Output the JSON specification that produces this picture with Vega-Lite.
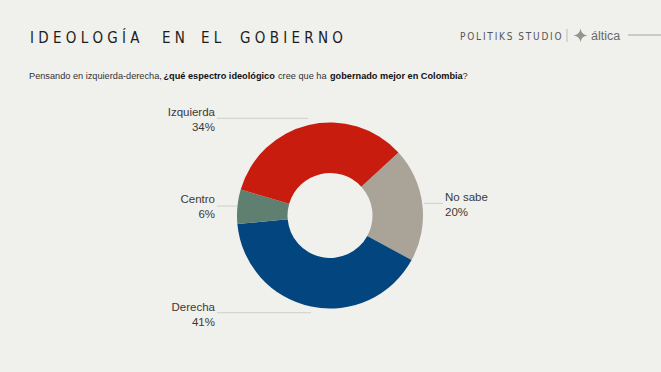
{
  "$schema": "https://vega.github.io/schema/vega-lite/v6.json",
  "width": 661,
  "height": 372,
  "padding": 0,
  "autosize": {"type": "none"},
  "background": "#F0F0EC",
  "config": {"view": {"stroke": null}, "axis": {"disable": true}, "text": {"baseline": "alphabetic"}},
  "data": {"values": [
    {"categoria": "No sabe", "pct": 0.20, "orden": 1},
    {"categoria": "Derecha", "pct": 0.41, "orden": 2},
    {"categoria": "Centro", "pct": 0.06, "orden": 3},
    {"categoria": "Izquierda", "pct": 0.34, "orden": 4}
  ]},
  "layer": [
    {
      "mark": {"type": "arc", "outerRadius": 93, "innerRadius": 42.5},
      "encoding": {
        "theta": {"field": "pct", "type": "quantitative", "stack": true, "scale": {"range": [0.827, 7.110]}},
        "order": {"field": "orden", "type": "quantitative"},
        "color": {"field": "categoria", "type": "nominal", "legend": null,
          "scale": {"domain": ["Izquierda", "No sabe", "Derecha", "Centro"], "range": ["#C81C0E", "#A9A398", "#03467F", "#5F7F70"]}},
        "x": {"datum": 330, "type": "quantitative", "scale": {"domain": [0, 661], "nice": false, "zero": false}},
        "y": {"datum": 215.5, "type": "quantitative", "scale": {"domain": [0, 372], "nice": false, "zero": false, "reverse": true}}
      }
    },
    {
      "transform": [{"filter": "datum.categoria === 'Izquierda'"}],
      "mark": {"type": "rule", "stroke": "#CFCFCA", "strokeWidth": 1},
      "encoding": {"x": {"datum": 217, "type": "quantitative"}, "x2": {"datum": 308}, "y": {"datum": 118.3, "type": "quantitative"}}
    },
    {
      "transform": [{"filter": "datum.categoria === 'Centro'"}],
      "mark": {"type": "rule", "stroke": "#CFCFCA", "strokeWidth": 1},
      "encoding": {"x": {"datum": 217, "type": "quantitative"}, "x2": {"datum": 237}, "y": {"datum": 206, "type": "quantitative"}}
    },
    {
      "transform": [{"filter": "datum.categoria === 'Derecha'"}],
      "mark": {"type": "rule", "stroke": "#CFCFCA", "strokeWidth": 1},
      "encoding": {"x": {"datum": 217, "type": "quantitative"}, "x2": {"datum": 311}, "y": {"datum": 312.7, "type": "quantitative"}}
    },
    {
      "transform": [{"filter": "datum.categoria === 'No sabe'"}],
      "mark": {"type": "rule", "stroke": "#CFCFCA", "strokeWidth": 1},
      "encoding": {"x": {"datum": 424, "type": "quantitative"}, "x2": {"datum": 443}, "y": {"datum": 203.3, "type": "quantitative"}}
    },
    {
      "transform": [{"filter": "datum.categoria === 'Izquierda'"}],
      "layer": [
        {"mark": {"type": "text", "align": "right", "font": "Liberation Sans", "fontSize": 11.5, "fill": "#3A3A3A"},
         "encoding": {"text": {"field": "categoria"}, "x": {"datum": 215, "type": "quantitative"}, "y": {"datum": 116, "type": "quantitative"}}},
        {"mark": {"type": "text", "align": "right", "font": "Liberation Sans", "fontSize": 11.5, "fill": "#3A3A3A"},
         "encoding": {"text": {"field": "pct", "type": "quantitative", "format": ".0%"}, "x": {"datum": 215, "type": "quantitative"}, "y": {"datum": 130.5, "type": "quantitative"}}}
      ]
    },
    {
      "transform": [{"filter": "datum.categoria === 'Centro'"}],
      "layer": [
        {"mark": {"type": "text", "align": "right", "font": "Liberation Sans", "fontSize": 11.5, "fill": "#3A3A3A"},
         "encoding": {"text": {"field": "categoria"}, "x": {"datum": 215, "type": "quantitative"}, "y": {"datum": 203, "type": "quantitative"}}},
        {"mark": {"type": "text", "align": "right", "font": "Liberation Sans", "fontSize": 11.5, "fill": "#3A3A3A"},
         "encoding": {"text": {"field": "pct", "type": "quantitative", "format": ".0%"}, "x": {"datum": 215, "type": "quantitative"}, "y": {"datum": 217.5, "type": "quantitative"}}}
      ]
    },
    {
      "transform": [{"filter": "datum.categoria === 'Derecha'"}],
      "layer": [
        {"mark": {"type": "text", "align": "right", "font": "Liberation Sans", "fontSize": 11.5, "fill": "#3A3A3A"},
         "encoding": {"text": {"field": "categoria"}, "x": {"datum": 215, "type": "quantitative"}, "y": {"datum": 311, "type": "quantitative"}}},
        {"mark": {"type": "text", "align": "right", "font": "Liberation Sans", "fontSize": 11.5, "fill": "#3A3A3A"},
         "encoding": {"text": {"field": "pct", "type": "quantitative", "format": ".0%"}, "x": {"datum": 215, "type": "quantitative"}, "y": {"datum": 325.5, "type": "quantitative"}}}
      ]
    },
    {
      "transform": [{"filter": "datum.categoria === 'No sabe'"}],
      "layer": [
        {"mark": {"type": "text", "align": "left", "font": "Liberation Sans", "fontSize": 11.5, "fill": "#3A3A3A"},
         "encoding": {"text": {"field": "categoria"}, "x": {"datum": 445, "type": "quantitative"}, "y": {"datum": 201, "type": "quantitative"}}},
        {"mark": {"type": "text", "align": "left", "font": "Liberation Sans", "fontSize": 11.5, "fill": "#3A3A3A"},
         "encoding": {"text": {"field": "pct", "type": "quantitative", "format": ".0%"}, "x": {"datum": 445, "type": "quantitative"}, "y": {"datum": 215.5, "type": "quantitative"}}}
      ]
    },
    {
      "data": {"values": [{}]},
      "layer": [
        {"mark": {"type": "text", "align": "left", "font": "DejaVu Sans Condensed", "fontSize": 15, "fill": "#1C1C1C", "text": "I\u00a0D\u00a0E\u00a0O\u00a0L\u00a0O\u00a0G\u00a0Í\u00a0A"},
         "encoding": {"x": {"datum": 30, "type": "quantitative"}, "y": {"datum": 42.5, "type": "quantitative"}}},
        {"mark": {"type": "text", "align": "left", "font": "DejaVu Sans Condensed", "fontSize": 15, "fill": "#1C1C1C", "text": "E\u00a0N"},
         "encoding": {"x": {"datum": 162, "type": "quantitative"}, "y": {"datum": 42.5, "type": "quantitative"}}},
        {"mark": {"type": "text", "align": "left", "font": "DejaVu Sans Condensed", "fontSize": 15, "fill": "#1C1C1C", "text": "E\u00a0L"},
         "encoding": {"x": {"datum": 201, "type": "quantitative"}, "y": {"datum": 42.5, "type": "quantitative"}}},
        {"mark": {"type": "text", "align": "left", "font": "DejaVu Sans Condensed", "fontSize": 15, "fill": "#1C1C1C", "text": "G\u00a0O\u00a0B\u00a0I\u00a0E\u00a0R\u00a0N\u00a0O"},
         "encoding": {"x": {"datum": 240, "type": "quantitative"}, "y": {"datum": 42.5, "type": "quantitative"}}},
        {"mark": {"type": "text", "align": "left", "font": "DejaVu Sans Condensed", "fontSize": 10, "fill": "#555555", "text": "P\u2009O\u2009L\u2009I\u2009T\u2009I\u2009K\u2009S\u00a0\u00a0S\u2009T\u2009U\u2009D\u2009I\u2009O"},
         "encoding": {"x": {"datum": 460, "type": "quantitative"}, "y": {"datum": 39.5, "type": "quantitative"}}},
        {"mark": {"type": "rule", "stroke": "#BDBDB8", "strokeWidth": 1},
         "encoding": {"x": {"datum": 567, "type": "quantitative"}, "y": {"datum": 29, "type": "quantitative"}, "y2": {"datum": 42}}},
        {"mark": {"type": "point", "shape": "M0,-1 Q0.1,-0.1 1,0 Q0.1,0.1 0,1 Q-0.1,0.1 -1,0 Q-0.1,-0.1 0,-1 Z", "size": 200, "filled": true, "fill": "#959590", "opacity": 1},
         "encoding": {"x": {"datum": 580.5, "type": "quantitative"}, "y": {"datum": 35.5, "type": "quantitative"}}},
        {"mark": {"type": "text", "align": "left", "font": "Liberation Sans", "fontSize": 12.5, "fill": "#6A6A66", "text": "áltica"},
         "encoding": {"x": {"datum": 591, "type": "quantitative"}, "y": {"datum": 39.5, "type": "quantitative"}}},
        {"mark": {"type": "rule", "stroke": "#A5A5A0", "strokeWidth": 1},
         "encoding": {"x": {"datum": 628, "type": "quantitative"}, "x2": {"datum": 661}, "y": {"datum": 35, "type": "quantitative"}}},
        {"mark": {"type": "text", "align": "left", "font": "Liberation Sans", "fontSize": 9.2, "fill": "#333333", "text": "Pensando en izquierda-derecha,"},
         "encoding": {"x": {"datum": 29, "type": "quantitative"}, "y": {"datum": 79, "type": "quantitative"}}},
        {"mark": {"type": "text", "align": "left", "font": "Liberation Sans", "fontSize": 9.2, "fontWeight": "bold", "fill": "#111111", "text": "¿qué espectro ideológico"},
         "encoding": {"x": {"datum": 163.5, "type": "quantitative"}, "y": {"datum": 79, "type": "quantitative"}}},
        {"mark": {"type": "text", "align": "left", "font": "Liberation Sans", "fontSize": 9.2, "fill": "#333333", "text": "cree que ha"},
         "encoding": {"x": {"datum": 278, "type": "quantitative"}, "y": {"datum": 79, "type": "quantitative"}}},
        {"mark": {"type": "text", "align": "left", "font": "Liberation Sans", "fontSize": 9.2, "fontWeight": "bold", "fill": "#111111", "text": "gobernado mejor en Colombia"},
         "encoding": {"x": {"datum": 330, "type": "quantitative"}, "y": {"datum": 79, "type": "quantitative"}}},
        {"mark": {"type": "text", "align": "left", "font": "Liberation Sans", "fontSize": 9.2, "fill": "#333333", "text": "?"},
         "encoding": {"x": {"datum": 462.5, "type": "quantitative"}, "y": {"datum": 79, "type": "quantitative"}}}
      ]
    }
  ]
}
